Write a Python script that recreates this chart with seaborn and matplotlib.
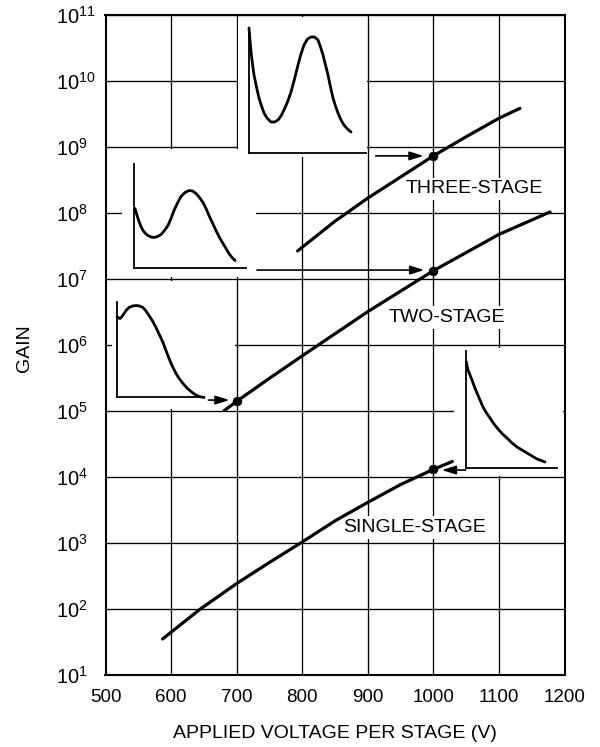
import matplotlib
matplotlib.use("Agg")
import matplotlib.pyplot as plt
from matplotlib.patches import Rectangle
import seaborn as sns

# gain curves (applied voltage per stage, log10 of gain)
volts_three = [793, 850, 900, 950, 1000, 1050, 1100, 1132]
log_gain_three = [7.43, 7.88, 8.23, 8.55, 8.87, 9.16, 9.44, 9.59]

volts_two = [681, 700, 750, 800, 900, 1000, 1100, 1178]
log_gain_two = [5.01, 5.15, 5.50, 5.84, 6.51, 7.13, 7.68, 8.02]

volts_single = [587, 644, 700, 750, 800, 850, 900, 950, 1000, 1029]
log_gain_single = [1.55, 2.00, 2.39, 2.71, 3.02, 3.34, 3.62, 3.89, 4.12, 4.24]

# marked operating points
dot_volts = [1000, 1000, 700, 1000]
dot_log_gain = [8.87, 7.13, 5.15, 4.12]

# arrows from the spectra to the operating points
arrow_start = [912, 731, 657, 1049]
arrow_tip = [985, 986, 689, 1013]
arrow_log_gain = [8.87, 7.14, 5.17, 4.11]

curve_labels = ["THREE-STAGE", "TWO-STAGE", "SINGLE-STAGE"]
label_volts = [1062, 1021, 971]
label_log_gain = [8.37, 6.42, 3.24]

x_ticks = [500, 600, 700, 800, 900, 1000, 1100, 1200]
y_exponents = [1, 2, 3, 4, 5, 6, 7, 8, 9, 10, 11]

# pulse-height spectra sketches (arbitrary units)
spec3_x = [0, 1, 2, 3.5, 5, 7.5, 10, 12.5, 15, 18, 22, 25.5, 29, 32, 35, 38.5, 42,
           45.5, 49, 52, 55, 58.5, 62, 65.5, 69, 71.5, 74, 76.5, 79, 81.5, 84,
           86.5, 89, 92, 95, 98.5, 102]
spec3_y = [125, 113, 101, 89, 78, 66, 55, 47, 40, 35, 31, 31, 33, 37, 43, 51, 61,
           74, 88, 99, 108, 114, 116, 116, 113, 106, 98, 88, 78, 66, 55,
           47, 40, 33, 28, 24, 21]
spec2_x = [1, 2.5, 4, 6.5, 9, 11.5, 14, 17, 20, 23.5, 27, 30.5, 34, 37, 40, 43.5,
           47, 51, 55, 58.5, 62, 65.5, 69, 72, 75, 78.5, 82, 85.5, 89, 92, 95, 98, 101]
spec2_y = [59, 54, 49, 42, 37, 34, 32, 30.5, 30, 31, 33, 37, 42, 49, 57, 64.5,
           71, 75, 77, 76.5, 74, 70, 65, 59, 52, 44.5, 37, 30, 24, 19, 14, 10, 7]
spec1_x = [0, 1.5, 3, 5, 7, 9.5, 12, 15.5, 19, 22.5, 26, 29, 32, 35.5, 39, 42.5,
           46, 49, 52, 55.5, 59, 62.5, 66, 70, 74, 78, 82, 87]
spec1_y = [81, 79.5, 79, 81, 84, 87.5, 90, 91.5, 92, 91.5, 90, 86.5, 82, 76.5, 70,
           62.5, 55, 47, 39, 31, 24, 18.5, 14, 9.5, 6, 3, 1, 0]
specE_x = [0.5, 1, 2, 4, 6, 8.5, 11, 14, 17, 20.5, 24, 28, 32, 36.5, 41, 46, 51,
           56, 61, 66, 71, 75, 79]
specE_y = [106, 102, 98, 93, 88, 81, 75, 68, 61, 55, 50, 44, 39, 34, 30, 25, 21,
           18, 15, 12, 9, 7.5, 6]

W, H = 600, 747

sns.set_style("white")
plt.rcParams["font.family"] = ["Liberation Sans", "DejaVu Sans"]
plt.rcParams["mathtext.fontset"] = "custom"
plt.rcParams["mathtext.rm"] = "Liberation Sans"
plt.rcParams["mathtext.it"] = "Liberation Sans"
plt.rcParams["mathtext.bf"] = "Liberation Sans"
plt.rcParams["text.color"] = "black"
plt.rcParams["axes.labelcolor"] = "black"
plt.rcParams["xtick.color"] = "black"
plt.rcParams["ytick.color"] = "black"


def px_rect(x0, y0, x1, y1):
    return [x0 / W, 1 - y1 / H, (x1 - x0) / W, (y1 - y0) / H]


fig = plt.figure(figsize=(6, 7.47), dpi=100)
ax = fig.add_axes(px_rect(105.5, 15.3, 564.5, 675.3))
ax.set_yscale("log")
ax.set_xlim(500, 1200)
ax.set_ylim(1e1, 1e11)
ax.set_xticks(x_ticks)
ax.set_xticklabels([str(v) for v in x_ticks], fontsize=13.5)
ax.set_yticks([10.0 ** e for e in y_exponents])
ax.set_yticklabels([r"$10^{%d}$" % e for e in y_exponents], fontsize=14.5, ha="left")
ax.minorticks_off()
ax.tick_params(axis="both", length=0)
ax.tick_params(axis="y", pad=36)
ax.tick_params(axis="x", pad=10)
ax.grid(True, color="black", lw=0.95)
for sp in ax.spines.values():
    sp.set_color("black")
    sp.set_linewidth(1.5)

ax.set_xlabel("APPLIED VOLTAGE PER STAGE (V)", fontsize=14)
ax.set_ylabel("GAIN", fontsize=14)
ax.xaxis.set_label_coords(0.5, (675.3 - 734) / 660)
ax.xaxis.label.set_va("center")
ax.yaxis.set_label_coords((24.5 - 105.5) / 459, 0.496)
ax.yaxis.label.set_va("center")

# white boxes hiding the grid behind the spectra
boxes = [(238, 17, 366.5, 157), (122, 149, 256, 277), (112, 281, 235, 409), (454, 348, 563, 476)]
for b in boxes:
    x0, y0, w, h = px_rect(*b)
    ax.add_patch(Rectangle((x0, y0), w, h, transform=fig.transFigure,
                           facecolor="white", edgecolor="none", zorder=1.8))

for v, lg in [(volts_three, log_gain_three), (volts_two, log_gain_two),
              (volts_single, log_gain_single)]:
    sns.lineplot(x=v, y=[10.0 ** g for g in lg], ax=ax, color="black",
                 linewidth=2.3, estimator=None, sort=False, zorder=4)

sns.scatterplot(x=dot_volts, y=[10.0 ** g for g in dot_log_gain], ax=ax,
                color="black", s=40, edgecolor="black", zorder=5)

for s, t, g in zip(arrow_start, arrow_tip, arrow_log_gain):
    ax.annotate("", xy=(t, 10.0 ** g), xytext=(s, 10.0 ** g),
                arrowprops=dict(arrowstyle="-|>,head_length=0.7,head_width=0.22",
                                color="black", lw=1.2, shrinkA=0, shrinkB=0,
                                mutation_scale=12), zorder=5)

for txt, v, g in zip(curve_labels, label_volts, label_log_gain):
    ax.text(v, 10.0 ** g, txt, ha="center", va="center", fontsize=14, zorder=3,
            bbox=dict(facecolor="white", edgecolor="none", pad=2))

# inset spectra
insets = [
    ((249, 153, 117, 125), spec3_x, spec3_y),
    ((134, 267.5, 112, 103.5), spec2_x, spec2_y),
    ((117, 397.5, 87, 95.5), spec1_x, spec1_y),
    ((466, 468, 91, 117), specE_x, specE_y),
]
for (cx, cy, w, h), sx, sy in insets:
    iax = fig.add_axes(px_rect(cx, cy - h, cx + w, cy))
    iax.set_facecolor("none")
    sns.lineplot(x=sx, y=sy, ax=iax, color="black", linewidth=2.0,
                 estimator=None, sort=False)
    for line in iax.lines:
        line.set_clip_on(False)
        line.set_solid_joinstyle("round")
    iax.set_xlim(0, w)
    iax.set_ylim(0, h)
    iax.set_xticks([])
    iax.set_yticks([])
    iax.set_xlabel("")
    iax.set_ylabel("")
    iax.spines["top"].set_visible(False)
    iax.spines["right"].set_visible(False)
    for side in ["left", "bottom"]:
        iax.spines[side].set_color("black")
        iax.spines[side].set_linewidth(1.3)

fig.savefig("out.png", dpi=100)
